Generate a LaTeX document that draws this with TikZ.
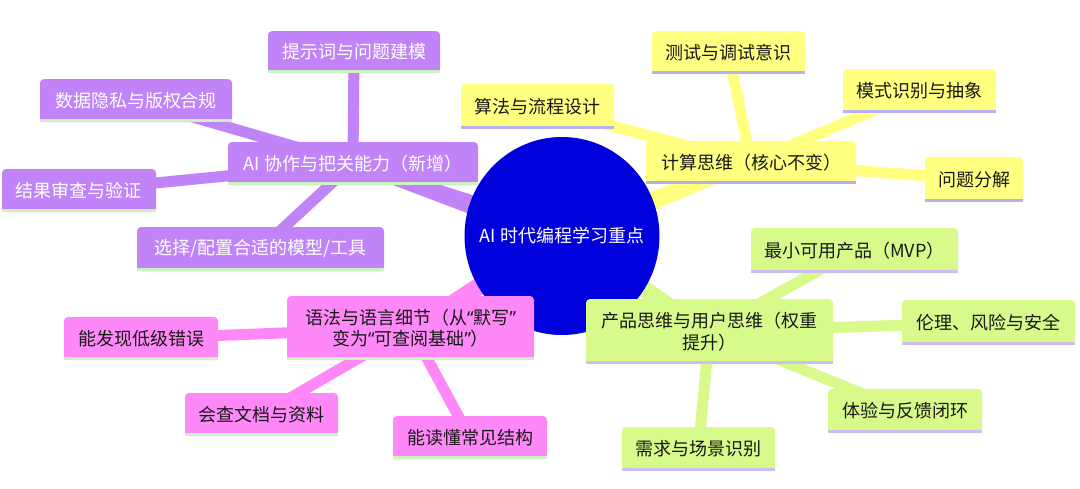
\documentclass[tikz,border=0pt]{standalone}
\usepackage{fontspec}
\setmainfont{Noto Sans CJK SC}
\newfontfamily\latinq{Noto Sans}
\newcommand{\myLQ}{{\latinq “}}
\newcommand{\myRQ}{{\latinq ”}}
\usetikzlibrary{calc}
\pgfdeclarelayer{bg}
\pgfsetlayers{bg,main}
\definecolor{cpurple}{RGB}{192,132,248}
\definecolor{cpurpleline}{RGB}{204,242,194}
\definecolor{cyellow}{RGB}{255,255,128}
\definecolor{cyellowline}{RGB}{178,178,240}
\definecolor{cpink}{RGB}{255,136,248}
\definecolor{cpinkline}{RGB}{204,242,194}
\definecolor{cgreen}{RGB}{216,250,138}
\definecolor{cgreenline}{RGB}{202,192,240}
\definecolor{cblue}{RGB}{0,0,220}
\definecolor{cdark}{RGB}{24,24,24}
\begin{document}
\begin{tikzpicture}[x=1pt,y=-1pt,
  box/.style={rounded corners=4pt, inner sep=2pt, font=\fontsize{18}{21.5}\selectfont, align=center},
  pbox/.style={box, fill=cpurple, text=white},
  ybox/.style={box, fill=cyellow, text=cdark},
  kbox/.style={box, fill=cpink, text=cdark},
  gbox/.style={box, fill=cgreen, text=cdark},
  leaflink/.style={line width=11pt},
]
\useasboundingbox (0,0) rectangle (1080,488);

% centre
\node[text=white, inner sep=0pt, font=\fontsize{18}{21}\selectfont] (C) at (562,236) {AI 时代编程学习重点};

% purple group
\node[pbox, minimum width=250pt, minimum height=43pt] (P) at (353,163.5) {AI 协作与把关能力（新增）};
\node[pbox, minimum width=172pt, minimum height=42pt] (P1) at (354,52) {提示词与问题建模};
\node[pbox, minimum width=192pt, minimum height=43pt] (P2) at (136,100.5) {数据隐私与版权合规};
\node[pbox, minimum width=154pt, minimum height=43pt] (P3) at (79,190.5) {结果审查与验证};
\node[pbox, minimum width=247pt, minimum height=44pt] (P4) at (260.5,249) {选择/配置合适的模型/工具};

% yellow group
\node[ybox, minimum width=210pt, minimum height=43pt] (Y) at (751,162.5) {计算思维（核心不变）};
\node[ybox, minimum width=153pt, minimum height=43pt] (Y1) at (728.5,52.5) {测试与调试意识};
\node[ybox, minimum width=153pt, minimum height=44pt] (Y2) at (919.5,91) {模式识别与抽象};
\node[ybox, minimum width=153pt, minimum height=45pt] (Y3) at (537.5,106.5) {算法与流程设计};
\node[ybox, minimum width=98pt, minimum height=45pt] (Y4) at (974,179.5) {问题分解};

% pink group
\node[kbox, minimum width=247pt, minimum height=64pt] (K) at (410.5,328) {语法与语言细节（从\myLQ 默写\myRQ\\变为\myLQ 可查阅基础\myRQ）};
\node[kbox, minimum width=154pt, minimum height=43pt] (K1) at (141,338.5) {能发现低级错误};
\node[kbox, minimum width=153pt, minimum height=43pt] (K2) at (261.5,414.5) {会查文档与资料};
\node[kbox, minimum width=154pt, minimum height=43pt] (K3) at (470,437.5) {能读懂常见结构};

% green group
\node[gbox, minimum width=247pt, minimum height=65pt] (G) at (709.5,331.5) {产品思维与用户思维（权重\\提升）};
\node[gbox, minimum width=207pt, minimum height=45pt] (G1) at (854.5,250.5) {最小可用产品（MVP）};
\node[gbox, minimum width=173pt, minimum height=45pt] (G2) at (988.5,322.5) {伦理、风险与安全};
\node[gbox, minimum width=154pt, minimum height=44pt] (G3) at (905,411) {体验与反馈闭环};
\node[gbox, minimum width=153pt, minimum height=44pt] (G4) at (698.5,449) {需求与场景识别};

% bottom accent lines
\foreach \n in {P,P1,P2,P3,P4}
  \draw[line width=3pt, cpurpleline] ([yshift=1.5pt]\n.south west) -- ([yshift=1.5pt]\n.south east);
\foreach \n in {Y,Y1,Y2,Y3,Y4}
  \draw[line width=3pt, cyellowline] ([yshift=1.5pt]\n.south west) -- ([yshift=1.5pt]\n.south east);
\foreach \n in {K,K1,K2,K3}
  \draw[line width=3pt, cpinkline] ([yshift=1.5pt]\n.south west) -- ([yshift=1.5pt]\n.south east);
\foreach \n in {G,G1,G2,G3,G4}
  \draw[line width=3pt, cgreenline] ([yshift=1.5pt]\n.south west) -- ([yshift=1.5pt]\n.south east);

% background, connectors, centre disc
\begin{pgfonlayer}{bg}
  \fill[white] (0,0) rectangle (1080,488);
  \foreach \b/\c in {P/cpurple,Y/cyellow,K/cpink,G/cgreen}
    \fill[\c] ($(C.center)!12pt!90:(\b.center)$) -- ($(C.center)!12pt!-90:(\b.center)$)
      -- ($(\b.center)!6pt!90:(C.center)$) -- ($(\b.center)!6pt!-90:(C.center)$) -- cycle;
  \foreach \l in {P1,P2,P3,P4}
    \draw[leaflink, cpurple] (P.center) -- (\l.center);
  \foreach \l in {Y1,Y2,Y3,Y4}
    \draw[leaflink, cyellow] (Y.center) -- (\l.center);
  \foreach \l in {K1,K2,K3}
    \draw[leaflink, cpink] (K.center) -- (\l.center);
  \foreach \l in {G1,G2,G3,G4}
    \draw[leaflink, cgreen] (G.center) -- (\l.center);
  \fill[cblue] (C.center) ellipse [x radius=97.5pt, y radius=99pt];
\end{pgfonlayer}
\end{tikzpicture}
\end{document}
